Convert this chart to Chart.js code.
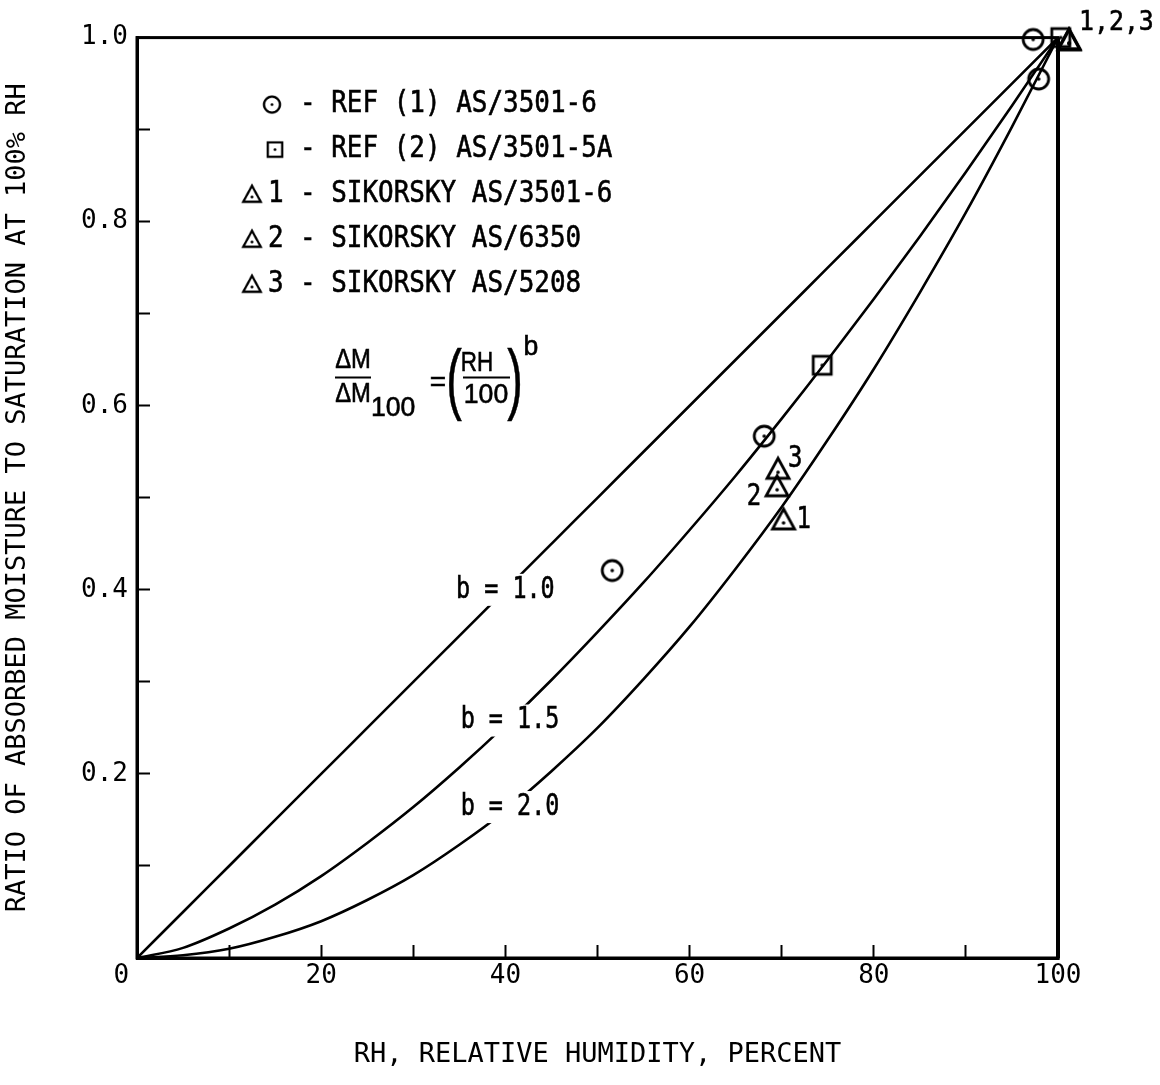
<!DOCTYPE html>
<html>
<head>
<meta charset="utf-8">
<script src="https://cdn.jsdelivr.net/npm/chart.js@4.4.1/dist/chart.umd.min.js"></script>
<style>
  html, body { margin: 0; padding: 0; background: #fff; }
  #wrap { width: 1160px; height: 1085px; }
</style>
</head>
<body>
<div id="wrap"><canvas id="moisture" width="1160" height="1085"></canvas></div>
<script>
// RH grid (percent) for the three b-curves
const rhGrid = [0, 5, 10, 15, 20, 25, 30, 35, 40, 45, 50, 55, 60, 65, 70, 75, 80, 85, 90, 95, 100];
const curveB10 = [0, 0.05, 0.10, 0.15, 0.20, 0.25, 0.30, 0.35, 0.40, 0.45, 0.50, 0.55, 0.60, 0.65, 0.70, 0.75, 0.80, 0.85, 0.90, 0.95, 1.00];
const curveB15 = [0, 0.011, 0.032, 0.058, 0.089, 0.125, 0.164, 0.207, 0.253, 0.302, 0.354, 0.408, 0.465, 0.524, 0.586, 0.650, 0.716, 0.784, 0.854, 0.926, 1.00];
const curveB20 = [0, 0.003, 0.010, 0.023, 0.040, 0.063, 0.090, 0.123, 0.160, 0.203, 0.250, 0.303, 0.360, 0.423, 0.490, 0.563, 0.640, 0.723, 0.810, 0.903, 1.00];

// test points
const ref1RH = [51.6, 68.1, 97.3, 97.9];
const ref1Ratio = [0.421, 0.567, 0.998, 0.955];
const ref2RH = [74.4, 100.3];
const ref2Ratio = [0.644, 1.0];
const sik1RH = [70.2, 101.2];
const sik1Ratio = [0.476, 0.997];
const sik2RH = [69.5, 101.2];
const sik2Ratio = [0.512, 0.997];
const sik3RH = [69.6, 101.2];
const sik3Ratio = [0.531, 0.997];

const xTickLabels = ['0', '20', '40', '60', '80', '100'];
const yTickLabels = ['0.2', '0.4', '0.6', '0.8', '1.0'];
const legendNames = ['REF (1) AS/3501-6', 'REF (2) AS/3501-5A', 'SIKORSKY AS/3501-6', 'SIKORSKY AS/6350', 'SIKORSKY AS/5208'];
const curveNames = ['b = 1.0', 'b = 1.5', 'b = 2.0'];

const MONO = "'DejaVu Sans Mono', monospace";
const SANS = "'Liberation Sans', Arial, sans-serif";

// little marker images: outline shape with a dot in the middle
function symbolCanvas(shape) {
  const c = document.createElement('canvas');
  c.width = 30; c.height = 30;
  const g = c.getContext('2d');
  g.strokeStyle = '#000';
  g.fillStyle = '#000';
  g.lineWidth = 2.8;
  let dotY = 15;
  if (shape === 'circle') {
    g.beginPath(); g.arc(15, 15, 10, 0, Math.PI * 2); g.stroke();
  } else if (shape === 'square') {
    g.strokeRect(6, 6, 18, 18);
  } else {
    g.lineJoin = 'miter';
    g.beginPath(); g.moveTo(15, 4); g.lineTo(26, 24); g.lineTo(4, 24); g.closePath(); g.stroke();
    dotY = 18;
  }
  g.beginPath(); g.arc(15, dotY, 1.8, 0, Math.PI * 2); g.fill();
  return c;
}
const circleImg = symbolCanvas('circle');
const squareImg = symbolCanvas('square');
const triImg = symbolCanvas('triangle');

function pts(xs, ys) { return xs.map((x, i) => ({x: x, y: ys[i]})); }

function curve(ys) {
  return {
    type: 'line',
    data: pts(rhGrid, ys),
    borderColor: '#000',
    borderWidth: 2.6,
    pointRadius: 0,
    cubicInterpolationMode: 'monotone',
    fill: false
  };
}

function marks(xs, ys, img) {
  return {
    type: 'scatter',
    data: pts(xs, ys),
    pointStyle: img,
    pointRadius: 11,
    showLine: false,
    clip: false
  };
}

// draws text, optionally squeezed horizontally; a hairline stroke thickens it a bit
function putText(ctx, str, x, y, font, sx, align) {
  ctx.save();
  ctx.font = font;
  ctx.fillStyle = '#000';
  ctx.strokeStyle = '#000';
  ctx.lineWidth = 0.6;
  ctx.textAlign = align || 'left';
  ctx.textBaseline = 'middle';
  ctx.translate(x, y);
  ctx.scale(sx || 1, 1);
  ctx.fillText(str, 0, 0);
  ctx.strokeText(str, 0, 0);
  ctx.restore();
}

const framePlugin = {
  id: 'frame',
  beforeDatasetsDraw(chart) {
    const {ctx, chartArea: a} = chart;
    ctx.save();
    ctx.strokeStyle = '#000';
    ctx.lineWidth = 3;
    ctx.strokeRect(a.left, a.top, a.right - a.left, a.bottom - a.top);
    ctx.lineWidth = 4;
    ctx.beginPath(); ctx.moveTo(a.right, a.top); ctx.lineTo(a.right, a.bottom); ctx.stroke();
    ctx.restore();
  }
};

const notesPlugin = {
  id: 'notes',
  afterDatasetsDraw(chart) {
    const {ctx, chartArea: a, scales: {x, y}} = chart;
    const textFont = '30px ' + MONO;

    // b = ... labels sit on their curves, blanking the line underneath
    const spots = [[40, 0.40], [40.5, 0.258], [40.5, 0.164]];
    curveNames.forEach((name, i) => {
      const px = x.getPixelForValue(spots[i][0]);
      const py = y.getPixelForValue(spots[i][1]);
      ctx.save();
      ctx.font = textFont;
      const w = ctx.measureText(name).width * 0.78;
      ctx.fillStyle = '#fff';
      ctx.fillRect(px - w / 2 - 4, py - 16, w + 8, 32);
      ctx.restore();
      putText(ctx, name, px, py, textFont, 0.78, 'center');
    });

    // legend
    const symbols = [circleImg, squareImg, triImg, triImg, triImg];
    const symX = [135, 138, 115, 115, 115];
    legendNames.forEach((name, i) => {
      const rowY = a.top + 67 + i * 45;
      const img = symbols[i];
      ctx.drawImage(img, a.left + symX[i] - 12, rowY - 12, 24, 24);
      const prefix = i < 2 ? '' : String(i - 1);
      if (prefix) putText(ctx, prefix, a.left + 131, rowY, textFont, 0.865);
      putText(ctx, '- ' + name, a.left + 163, rowY, textFont, 0.865);
    });

    // point numbers
    const f = textFont;
    putText(ctx, '1', x.getPixelForValue(sik1RH[0]) + 13, y.getPixelForValue(sik1Ratio[0]), f, 0.8);
    putText(ctx, '2', x.getPixelForValue(sik2RH[0]) - 16, y.getPixelForValue(sik2Ratio[0]) + 10, f, 0.8, 'right');
    putText(ctx, '3', x.getPixelForValue(sik3RH[0]) + 10, y.getPixelForValue(sik3Ratio[0]) - 10, f, 0.8);
    putText(ctx, '1,2,3', x.getPixelForValue(sik1RH[1]) + 10, y.getPixelForValue(sik1Ratio[1]) - 17, '27px ' + MONO, 0.92);

    // dM/dM100 = (RH/100)^b
    const fx = a.left, fy = a.top;
    const ff = '28px ' + SANS;
    ctx.save();
    ctx.strokeStyle = '#000';
    ctx.lineWidth = 2;
    ctx.beginPath();
    ctx.moveTo(fx + 198, fy + 340); ctx.lineTo(fx + 234, fy + 340);
    ctx.moveTo(fx + 326, fy + 340); ctx.lineTo(fx + 373, fy + 340);
    ctx.stroke();
    ctx.restore();
    putText(ctx, '\u0394M', fx + 216, fy + 323, ff, 0.85, 'center');
    putText(ctx, '\u0394M', fx + 216, fy + 357, ff, 0.85, 'center');
    putText(ctx, '100', fx + 234, fy + 371, ff, 0.95);
    putText(ctx, '=', fx + 301, fy + 346, ff, 1, 'center');
    putText(ctx, '(', fx + 317, fy + 346, '78px ' + SANS, 0.6, 'center');
    putText(ctx, 'RH', fx + 340, fy + 326, ff, 0.8, 'center');
    putText(ctx, '100', fx + 349, fy + 358, ff, 0.95, 'center');
    putText(ctx, ')', fx + 378, fy + 346, '78px ' + SANS, 0.6, 'center');
    putText(ctx, 'b', fx + 394, fy + 310, ff, 0.95, 'center');
  }
};

new Chart(document.getElementById('moisture'), {
  data: {
    datasets: [
      curve(curveB10),
      curve(curveB15),
      curve(curveB20),
      marks(ref1RH, ref1Ratio, circleImg),
      marks(ref2RH, ref2Ratio, squareImg),
      marks(sik1RH, sik1Ratio, triImg),
      marks(sik2RH, sik2Ratio, triImg),
      marks(sik3RH, sik3Ratio, triImg)
    ]
  },
  options: {
    responsive: false,
    animation: false,
    layout: { padding: { left: 0, top: 35, right: 102, bottom: 0 } },
    plugins: { legend: { display: false }, tooltip: { enabled: false } },
    scales: {
      x: {
        type: 'linear',
        min: 0,
        max: 100,
        afterFit(scale) { scale.height = 127; },
        ticks: {
          stepSize: 10,
          autoSkip: false,
          maxRotation: 0,
          padding: 16,
          color: '#000',
          font: { family: MONO, size: 26 },
          callback(v) {
            const s = String(v);
            if (!xTickLabels.includes(s)) return '';
            return v === 0 ? '0  ' : s;
          }
        },
        grid: { drawOnChartArea: false, drawTicks: true, tickLength: -13, tickWidth: 2, color: '#000' },
        border: { display: true, color: '#000', width: 3 },
        title: {
          display: true,
          text: 'RH, RELATIVE HUMIDITY, PERCENT',
          color: '#000',
          font: { family: MONO, size: 27 },
          padding: { top: 0, bottom: 14 }
        }
      },
      y: {
        type: 'linear',
        min: 0,
        max: 1,
        afterFit(scale) { scale.width = 137; },
        ticks: {
          stepSize: 0.1,
          autoSkip: false,
          padding: 22,
          color: '#000',
          font: { family: MONO, size: 26 },
          callback(v) {
            const s = v.toFixed(1);
            return yTickLabels.includes(s) ? s : '';
          }
        },
        grid: { drawOnChartArea: false, drawTicks: true, tickLength: -13, tickWidth: 2, color: '#000' },
        border: { display: true, color: '#000', width: 3 },
        title: {
          display: true,
          text: 'RATIO OF ABSORBED MOISTURE TO SATURATION AT 100% RH',
          color: '#000',
          font: { family: MONO, size: 27 },
          padding: { top: 2, bottom: 0 }
        }
      }
    }
  },
  plugins: [framePlugin, notesPlugin]
});
</script>
</body>
</html>
